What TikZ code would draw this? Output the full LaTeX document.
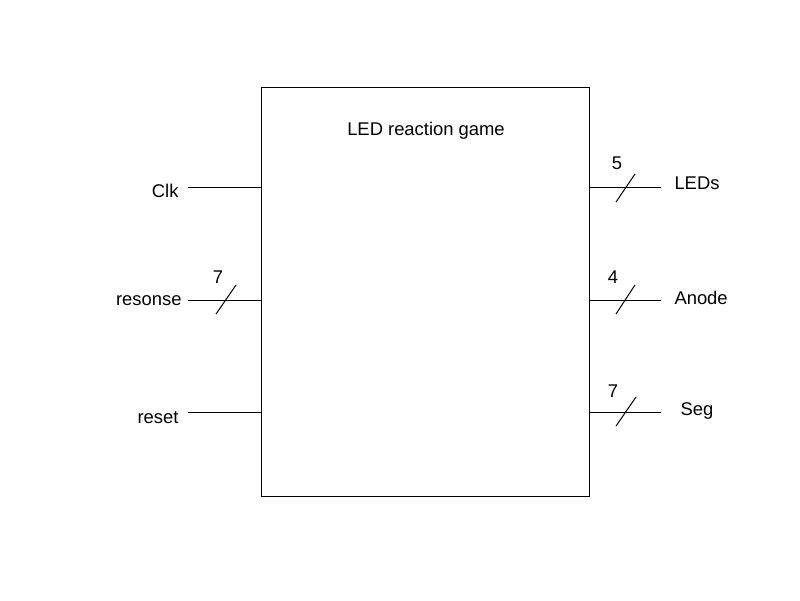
\documentclass[tikz,border=0pt]{standalone}
\usepackage{fontspec}
\setmainfont{Liberation Sans}
\usetikzlibrary{calc}
\begin{document}
\begin{tikzpicture}[x=1pt,y=-1pt,line width=1pt,
  lbl/.style={inner sep=0pt,font=\fontsize{18.4}{20}\selectfont},
  wire/.style={draw=black},
  busslash/.style={draw=black}]
\useasboundingbox (0,0) rectangle (800,600);
\fill[white] (0,0) rectangle (800,600);
\node[draw,minimum width=328pt,minimum height=409pt,inner sep=0pt,anchor=north west] (box) at (261,87) {};
\node[lbl,anchor=base] (title) at (426,135) {LED reaction game};
% left side
\coordinate (clkend) at (188,187);
\coordinate (resend) at (188,300);
\coordinate (rstend) at (188,412);
\coordinate (clkin) at (261,187);
\coordinate (resin) at (261,300);
\coordinate (rstin) at (261,412);
\draw[wire] (clkend) -- (clkin);
\draw[wire] (resend) -- (resin);
\draw[wire] (rstend) -- (rstin);
\node[lbl,anchor=base east] (clk) at (179,197) {Clk};
\node[lbl,anchor=base east] (res) at (182,305) {resonse};
\node[lbl,anchor=base east] (rst) at (179,423) {reset};
\coordinate (ress) at (226,300);
\draw[busslash] ($(ress)+(-10,14)$) -- ($(ress)+(10,-15)$);
\node[lbl,anchor=base] (resw) at (218,283) {7};
% right side
\coordinate (ledout) at (589,187);
\coordinate (anout) at (589,300);
\coordinate (segout) at (589,412);
\coordinate (ledend) at (661,187);
\coordinate (anend) at (661,300);
\coordinate (segend) at (661,412);
\draw[wire] (ledout) -- (ledend);
\draw[wire] (anout) -- (anend);
\draw[wire] (segout) -- (segend);
\node[lbl,anchor=base west] (leds) at (674,189) {LEDs};
\node[lbl,anchor=base west] (anode) at (674,304) {Anode};
\node[lbl,anchor=base west] (seg) at (680,415) {Seg};
\coordinate (ledss) at (625.5,187);
\coordinate (anss) at (625.5,300);
\coordinate (segss) at (626,412);
\draw[busslash] ($(ledss)+(-9.5,15)$) -- ($(ledss)+(9.5,-13)$);
\draw[busslash] ($(anss)+(-9.5,14)$) -- ($(anss)+(9.5,-15)$);
\draw[busslash] ($(segss)+(-10,14)$) -- ($(segss)+(10,-15)$);
\node[lbl,anchor=base] (ledw) at (617,169) {5};
\node[lbl,anchor=base] (anw) at (613,283) {4};
\node[lbl,anchor=base] (segw) at (613,397) {7};
\end{tikzpicture}
\end{document}
